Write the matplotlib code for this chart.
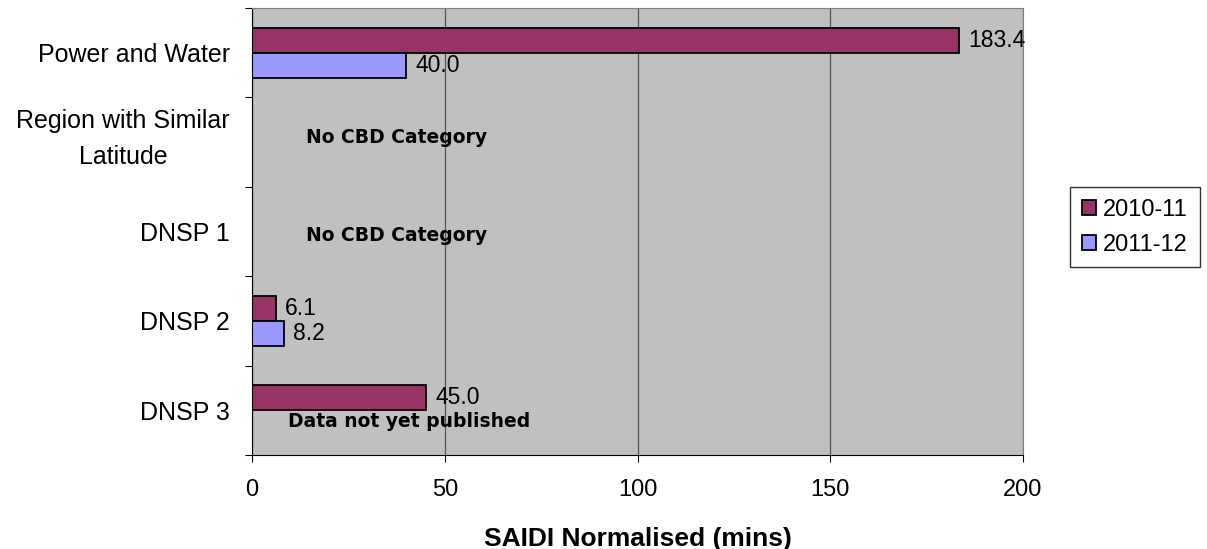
import numpy as np
import matplotlib
matplotlib.use('Agg')
import matplotlib.pyplot as plt
from matplotlib.transforms import ScaledTranslation

categories = ['Power and Water', 'Region with Similar\nLatitude', 'DNSP 1', 'DNSP 2', 'DNSP 3']
saidi_2010_11 = [183.4, np.nan, np.nan, 6.1, 45.0]
saidi_2011_12 = [40.0, np.nan, np.nan, 8.2, np.nan]
series_names = ['2010-11', '2011-12']
notes = {1: 'No CBD Category', 2: 'No CBD Category', 4: 'Data not yet published'}

plt.rcParams['font.family'] = ['Liberation Sans', 'DejaVu Sans']

fig = plt.figure(figsize=(12.07, 5.49), dpi=100)
ax = fig.add_axes([0.2088, 0.1712, 0.6388, 0.8142])
ax.set_facecolor('#C0C0C0')

y = np.arange(len(categories))
h = 0.28
colors = ['#993366', '#9999FF']
for i, (vals, name) in enumerate(zip([saidi_2010_11, saidi_2011_12], series_names)):
    pos = y - h / 2 + i * h
    ax.barh(pos, vals, height=h, color=colors[i], edgecolor='black', linewidth=1.3, label=name)
    for p, v in zip(pos, vals):
        if not np.isnan(v):
            ax.text(v + 2.5, p, '%.1f' % v, va='center', ha='left', fontsize=16.5, clip_on=False)

# text notes for categories with no bars
note_pos = {1: (37.6, -0.05), 2: (37.6, 0.04), 4: (40.8, 0.12)}
for idx, txt in notes.items():
    nx, off = note_pos[idx]
    ax.text(nx, idx + off, txt, ha='center', va='center', fontsize=13.5,
            fontweight='bold', family='DejaVu Sans')

ax.set_xlim(0, 200)
ax.set_ylim(len(categories) - 0.5, -0.5)
ax.set_xticks([0, 50, 100, 150, 200])
ax.set_yticks(np.arange(len(categories) + 1) - 0.5)
ax.set_yticklabels([])
ax.set_yticks(y, minor=True)
ax.set_yticklabels(categories, minor=True, fontsize=18, multialignment='center', linespacing=1.65)
ax.tick_params(axis='y', which='minor', length=0, pad=16)
ax.tick_params(axis='y', which='major', length=5, direction='out')
ax.tick_params(axis='x', length=5, labelsize=17, pad=12)
# two-line label sits a bit higher in the original
lab = ax.get_yticklabels(minor=True)[1]
lab.set_transform(lab.get_transform() + ScaledTranslation(0, 0.12, fig.dpi_scale_trans))
ax.xaxis.grid(True, color='#555555', linewidth=0.9)
ax.set_axisbelow(True)
for s in ['top', 'right']:
    ax.spines[s].set_color('#808080')
ax.set_xlabel('SAIDI Normalised (mins)', fontsize=19, fontweight='bold', labelpad=19)

leg = fig.legend(loc='center left', bbox_to_anchor=(0.8865, 0.5865), fontsize=17, frameon=True,
                 fancybox=False, edgecolor='black', handlelength=0.6, handleheight=0.6,
                 handletextpad=0.3, borderpad=0.5, labelspacing=0.55, borderaxespad=0)
leg.get_frame().set_linewidth(1.0)

fig.savefig('out.png', dpi=100)
